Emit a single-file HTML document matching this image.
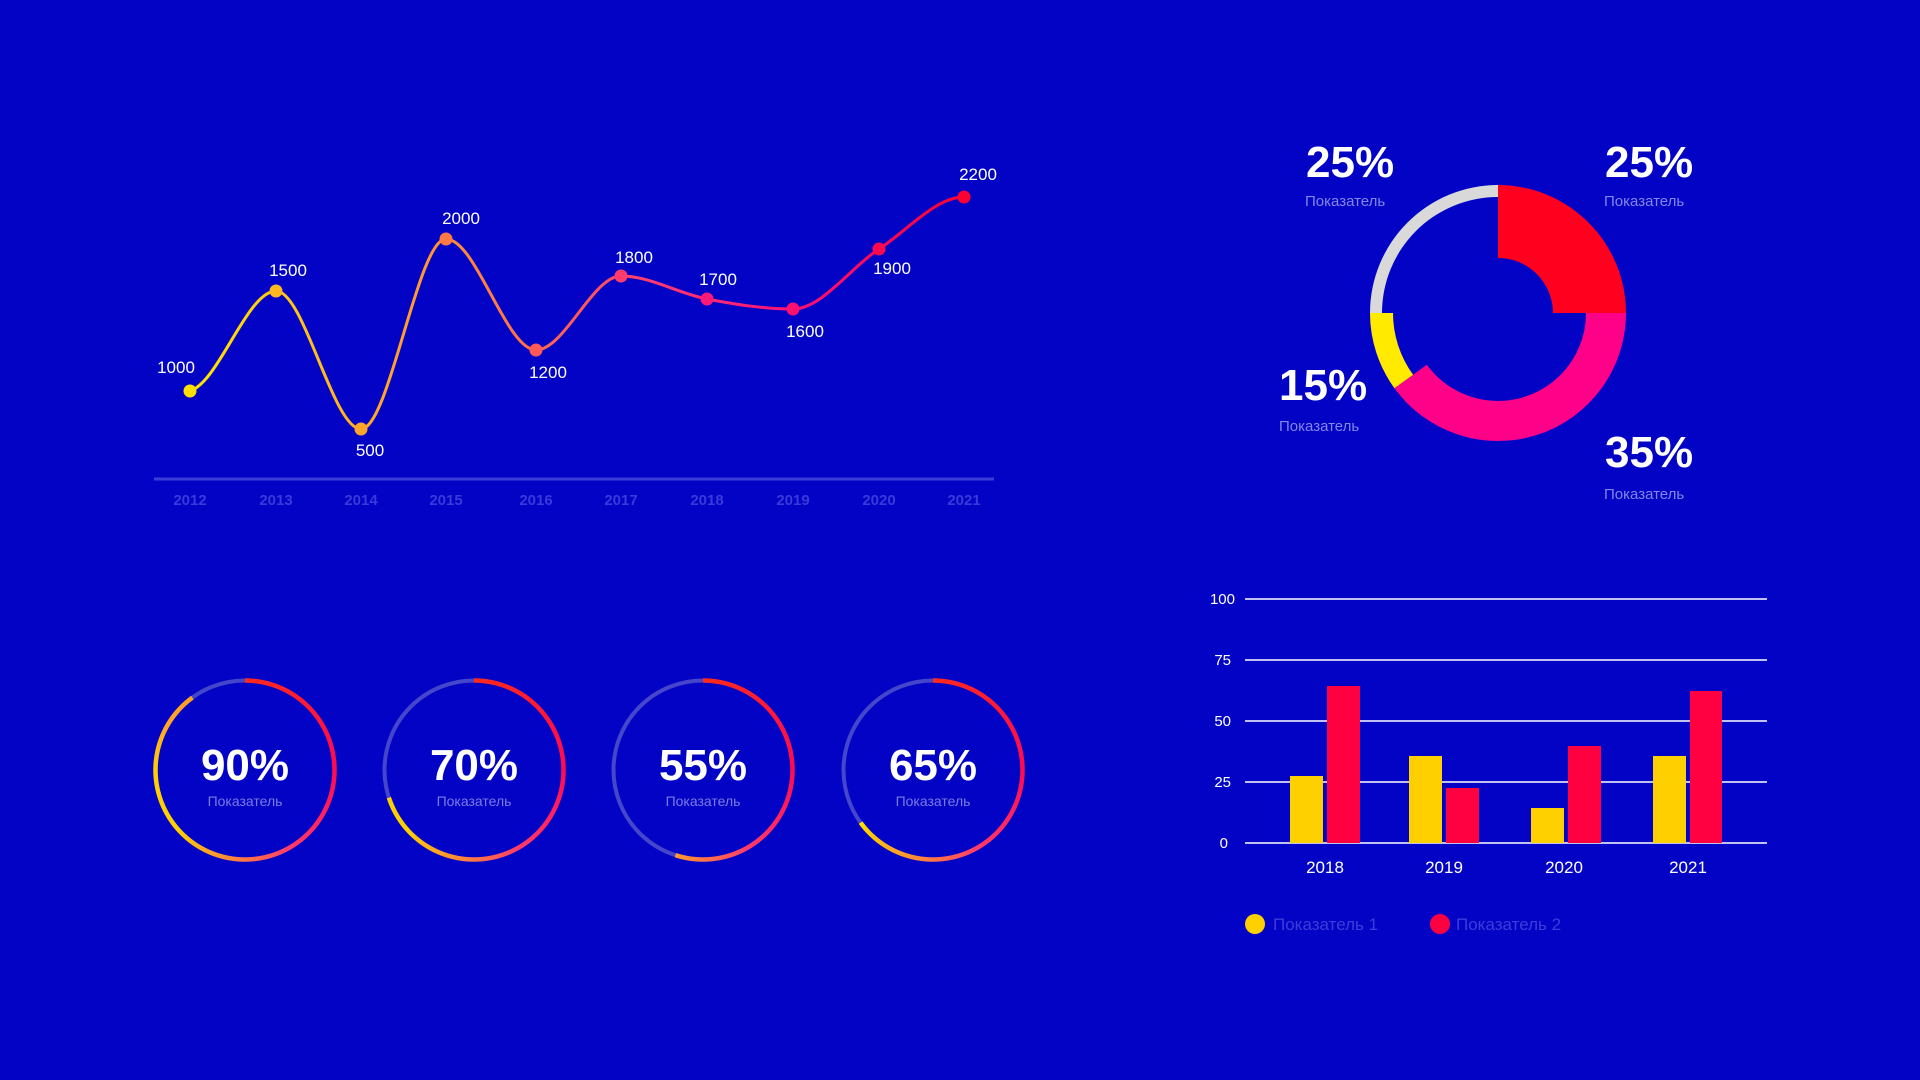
<!DOCTYPE html>
<html><head><meta charset="utf-8"><style>
html,body{margin:0;padding:0;background:#0303c6;width:1920px;height:1080px;overflow:hidden;font-family:"Liberation Sans","DejaVu Sans",sans-serif}
.g{position:absolute;width:186px;height:186px;border-radius:50%;
-webkit-mask:radial-gradient(circle closest-side,transparent 87px,#000 87.5px,#000 91.5px,transparent 92px);
mask:radial-gradient(circle closest-side,transparent 87px,#000 87.5px,#000 91.5px,transparent 92px)}
</style></head><body>
<svg width="1920" height="1080" style="position:absolute;left:0;top:0" font-family="Liberation Sans, DejaVu Sans, sans-serif">
<defs>
<linearGradient id="lg" gradientUnits="userSpaceOnUse" x1="190" y1="0" x2="964" y2="0">
<stop offset="0" stop-color="#ffe600"/><stop offset="0.25" stop-color="#ffa62a"/><stop offset="0.45" stop-color="#ff6a4c"/><stop offset="0.6" stop-color="#ff3a70"/><stop offset="0.78" stop-color="#ff1078"/><stop offset="1" stop-color="#ff0030"/>
</linearGradient>
</defs>
<!-- line chart -->
<line x1="154" y1="479" x2="994" y2="479" stroke="#3c3cd6" stroke-width="3"/>
<g fill="#3a3ada" font-size="15" font-weight="bold" text-anchor="middle">
<text x="190" y="505">2012</text><text x="276" y="505">2013</text><text x="361" y="505">2014</text><text x="446" y="505">2015</text><text x="536" y="505">2016</text><text x="621" y="505">2017</text><text x="707" y="505">2018</text><text x="793" y="505">2019</text><text x="879" y="505">2020</text><text x="964" y="505">2021</text>
</g>
<path d="M190,391 C218.7,382.4 247.3,291 276,291 C304.3,291 332.7,429 361,429 C389.3,429 417.7,239 446,239 C476,239 506,350 536,350 C564.3,350 592.7,276 621,276 C649.7,276 678.3,293.5 707,299 C735.7,304.5 764.3,309 793,309 C821.7,309 850.3,267.7 879,249 C907.3,230.6 935.7,197 964,197" fill="none" stroke="url(#lg)" stroke-width="3"/>
<g>
<circle cx="190" cy="391" r="6.5" fill="#ffe000"/><circle cx="276" cy="291" r="6.5" fill="#ffb820"/><circle cx="361" cy="429" r="6.5" fill="#ffa52a"/><circle cx="446" cy="239" r="6.5" fill="#ff7a44"/><circle cx="536" cy="350" r="6.5" fill="#ff5a58"/><circle cx="621" cy="276" r="6.5" fill="#ff3a6c"/><circle cx="707" cy="299" r="6.5" fill="#ff1a78"/><circle cx="793" cy="309" r="6.5" fill="#ff1070"/><circle cx="879" cy="249" r="6.5" fill="#ff0850"/><circle cx="964" cy="197" r="6.5" fill="#ff0030"/>
</g>
<g fill="#fff" font-size="17" text-anchor="middle">
<text x="176" y="373">1000</text><text x="288" y="276">1500</text><text x="370" y="456">500</text><text x="461" y="224">2000</text><text x="548" y="378">1200</text><text x="634" y="263">1800</text><text x="718" y="285">1700</text><text x="805" y="337">1600</text><text x="892" y="274">1900</text><text x="978" y="180">2200</text>
</g>
<!-- donut -->
<path d="M1498,185 A128,128 0 0 1 1626,313 L1553,313 A55,55 0 0 0 1498,258 Z" fill="#ff001e"/>
<path d="M1626,313 A128,128 0 0 1 1394.4,388.2 L1426.8,364.7 A88,88 0 0 0 1586,313 Z" fill="#ff0088"/>
<path d="M1394.4,388.2 A128,128 0 0 1 1370,313 L1393,313 A105,105 0 0 0 1413.1,374.7 Z" fill="#ffea00"/>
<path d="M1370,313 A128,128 0 0 1 1498,185 L1498,197 A116,116 0 0 0 1382,313 Z" fill="#d9d9d9"/>
<g fill="#fff" font-size="44" font-weight="bold">
<text x="1306" y="177">25%</text><text x="1605" y="177">25%</text><text x="1279" y="400">15%</text><text x="1605" y="467">35%</text>
</g>
<g fill="#8585e6" font-size="15">
<text x="1305" y="206">Показатель</text><text x="1604" y="206">Показатель</text><text x="1279" y="431">Показатель</text><text x="1604" y="499">Показатель</text>
</g>
<!-- bar chart -->
<g stroke="#fff" stroke-width="1.5">
<line x1="1245" y1="599" x2="1767" y2="599"/><line x1="1245" y1="660" x2="1767" y2="660"/><line x1="1245" y1="721" x2="1767" y2="721"/><line x1="1245" y1="782" x2="1767" y2="782"/><line x1="1245" y1="843" x2="1767" y2="843"/>
</g>
<g fill="#fff" font-size="15" text-anchor="end">
<text x="1235" y="604">100</text><text x="1231" y="665">75</text><text x="1231" y="726">50</text><text x="1231" y="787">25</text><text x="1228" y="848">0</text>
</g>
<g fill="#ffd000">
<rect x="1290" y="776" width="33" height="67"/><rect x="1409" y="756" width="33" height="87"/><rect x="1531" y="808" width="33" height="35"/><rect x="1653" y="756" width="33" height="87"/>
</g>
<g fill="#ff0040">
<rect x="1327" y="686" width="33" height="157"/><rect x="1446" y="788" width="33" height="55"/><rect x="1568" y="746" width="33" height="97"/><rect x="1690" y="691" width="32" height="152"/>
</g>
<g fill="#fff" font-size="17" text-anchor="middle">
<text x="1325" y="873">2018</text><text x="1444" y="873">2019</text><text x="1564" y="873">2020</text><text x="1688" y="873">2021</text>
</g>
<circle cx="1255" cy="924" r="10" fill="#ffd000"/>
<circle cx="1440" cy="924" r="10" fill="#ff0040"/>
<g fill="#3d3dda" font-size="17">
<text x="1273" y="930">Показатель 1</text><text x="1456" y="930">Показатель 2</text>
</g>
<!-- gauges tracks -->
<g fill="none" stroke="#4646cc" stroke-width="4">
<circle cx="245" cy="770" r="89.5"/><circle cx="474" cy="770" r="89.5"/><circle cx="703" cy="770" r="89.5"/><circle cx="933" cy="770" r="89.5"/>
</g>
<g fill="#fff" font-size="44" font-weight="bold" text-anchor="middle">
<text x="245" y="780">90%</text><text x="474" y="780">70%</text><text x="703" y="780">55%</text><text x="933" y="780">65%</text>
</g>
<g fill="#7b7be2" font-size="14" text-anchor="middle">
<text x="245" y="806">Показатель</text><text x="474" y="806">Показатель</text><text x="703" y="806">Показатель</text><text x="933" y="806">Показатель</text>
</g>
</svg>
<div class="g" style="left:152px;top:677px;background:conic-gradient(#ff2a1a 0deg,#ff0a50 90deg,#ff3a6a 150deg,#ff8a3a 190deg,#ffd000 228deg,#ffd000 270deg,#ffa52a 300deg,#ffa020 324deg,transparent 324deg)"></div>
<div class="g" style="left:381px;top:677px;background:conic-gradient(#ff2a1a 0deg,#ff0a50 90deg,#ff3a6a 150deg,#ff8a3a 190deg,#ffd000 228deg,#ffd000 252deg,transparent 252deg)"></div>
<div class="g" style="left:610px;top:677px;background:conic-gradient(#ff2a1a 0deg,#ff0a50 90deg,#ff3a6a 150deg,#ff8a3a 190deg,#ff9a30 198deg,transparent 198deg)"></div>
<div class="g" style="left:840px;top:677px;background:conic-gradient(#ff2a1a 0deg,#ff0a50 90deg,#ff3a6a 150deg,#ff8a3a 190deg,#ffd000 228deg,#ffe000 234deg,transparent 234deg)"></div>
</body></html>
